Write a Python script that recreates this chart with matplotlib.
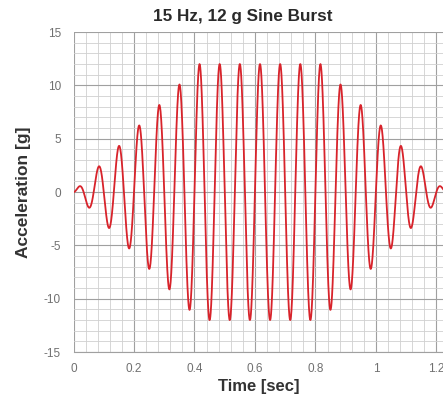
import numpy as np
import matplotlib
matplotlib.use("Agg")
import matplotlib.pyplot as plt
from matplotlib.ticker import MultipleLocator

# burst parameters
freq_hz = 15.0
peak_g = 12.0
ramp_up_end = 25 / 60.0     # envelope reaches 12 g at the 13th peak
hold_end = 49 / 60.0        # last full 12 g peak
burst_end = 74 / 60.0       # envelope back to zero

x_ticks = [0, 0.2, 0.4, 0.6, 0.8, 1.0, 1.2]
x_tick_labels = ["0", "0.2", "0.4", "0.6", "0.8", "1", "1.2"]
y_ticks = [-15, -10, -5, 0, 5, 10, 15]

t = np.linspace(0, burst_end, 3000)
env = np.where(t < ramp_up_end, peak_g * t / ramp_up_end,
               np.where(t < hold_end, peak_g,
                        peak_g * (burst_end - t) / (burst_end - hold_end)))
accel = env * np.sin(2 * np.pi * freq_hz * t)

plt.rcParams['font.family'] = ['Liberation Sans', 'DejaVu Sans']
plt.rcParams['axes.unicode_minus'] = False

fig = plt.figure(figsize=(4.43, 3.96), dpi=100)
ax = fig.add_axes([0.166, 0.111, 0.834, 0.808])

ax.plot(t, accel, color='#d8232b', lw=1.3, zorder=3)

ax.set_xlim(0, 1.222)
ax.set_ylim(-15, 15)
ax.set_xticks(x_ticks)
ax.set_xticklabels(x_tick_labels)
ax.set_yticks(y_ticks)
ax.xaxis.set_minor_locator(MultipleLocator(0.04))
ax.yaxis.set_minor_locator(MultipleLocator(1))

ax.grid(which='major', color='#a0a0a0', lw=0.8)
ax.grid(which='minor', color='#d0d0d0', lw=0.6)
ax.set_axisbelow(True)
for s in ax.spines.values():
    s.set_visible(False)
ax.spines['bottom'].set_visible(True)
ax.spines['bottom'].set_color('#a0a0a0')
ax.tick_params(which='both', length=0, labelsize=8.5, labelcolor='#707070')
ax.tick_params(axis='x', pad=8)
ax.tick_params(axis='y', pad=9)

fig.text(243 / 443, 1 - 16 / 396, "15 Hz, 12 g Sine Burst", fontsize=12.3,
         fontweight='bold', color='#2a2a2a', ha='center', va='center')
ax.set_xlabel("Time [sec]", fontsize=12, fontweight='bold', color='#333333', labelpad=3)
ax.set_ylabel("Acceleration [g]", fontsize=12.5, fontweight='bold', color='#333333', labelpad=9)

fig.savefig("out.png", dpi=100)
